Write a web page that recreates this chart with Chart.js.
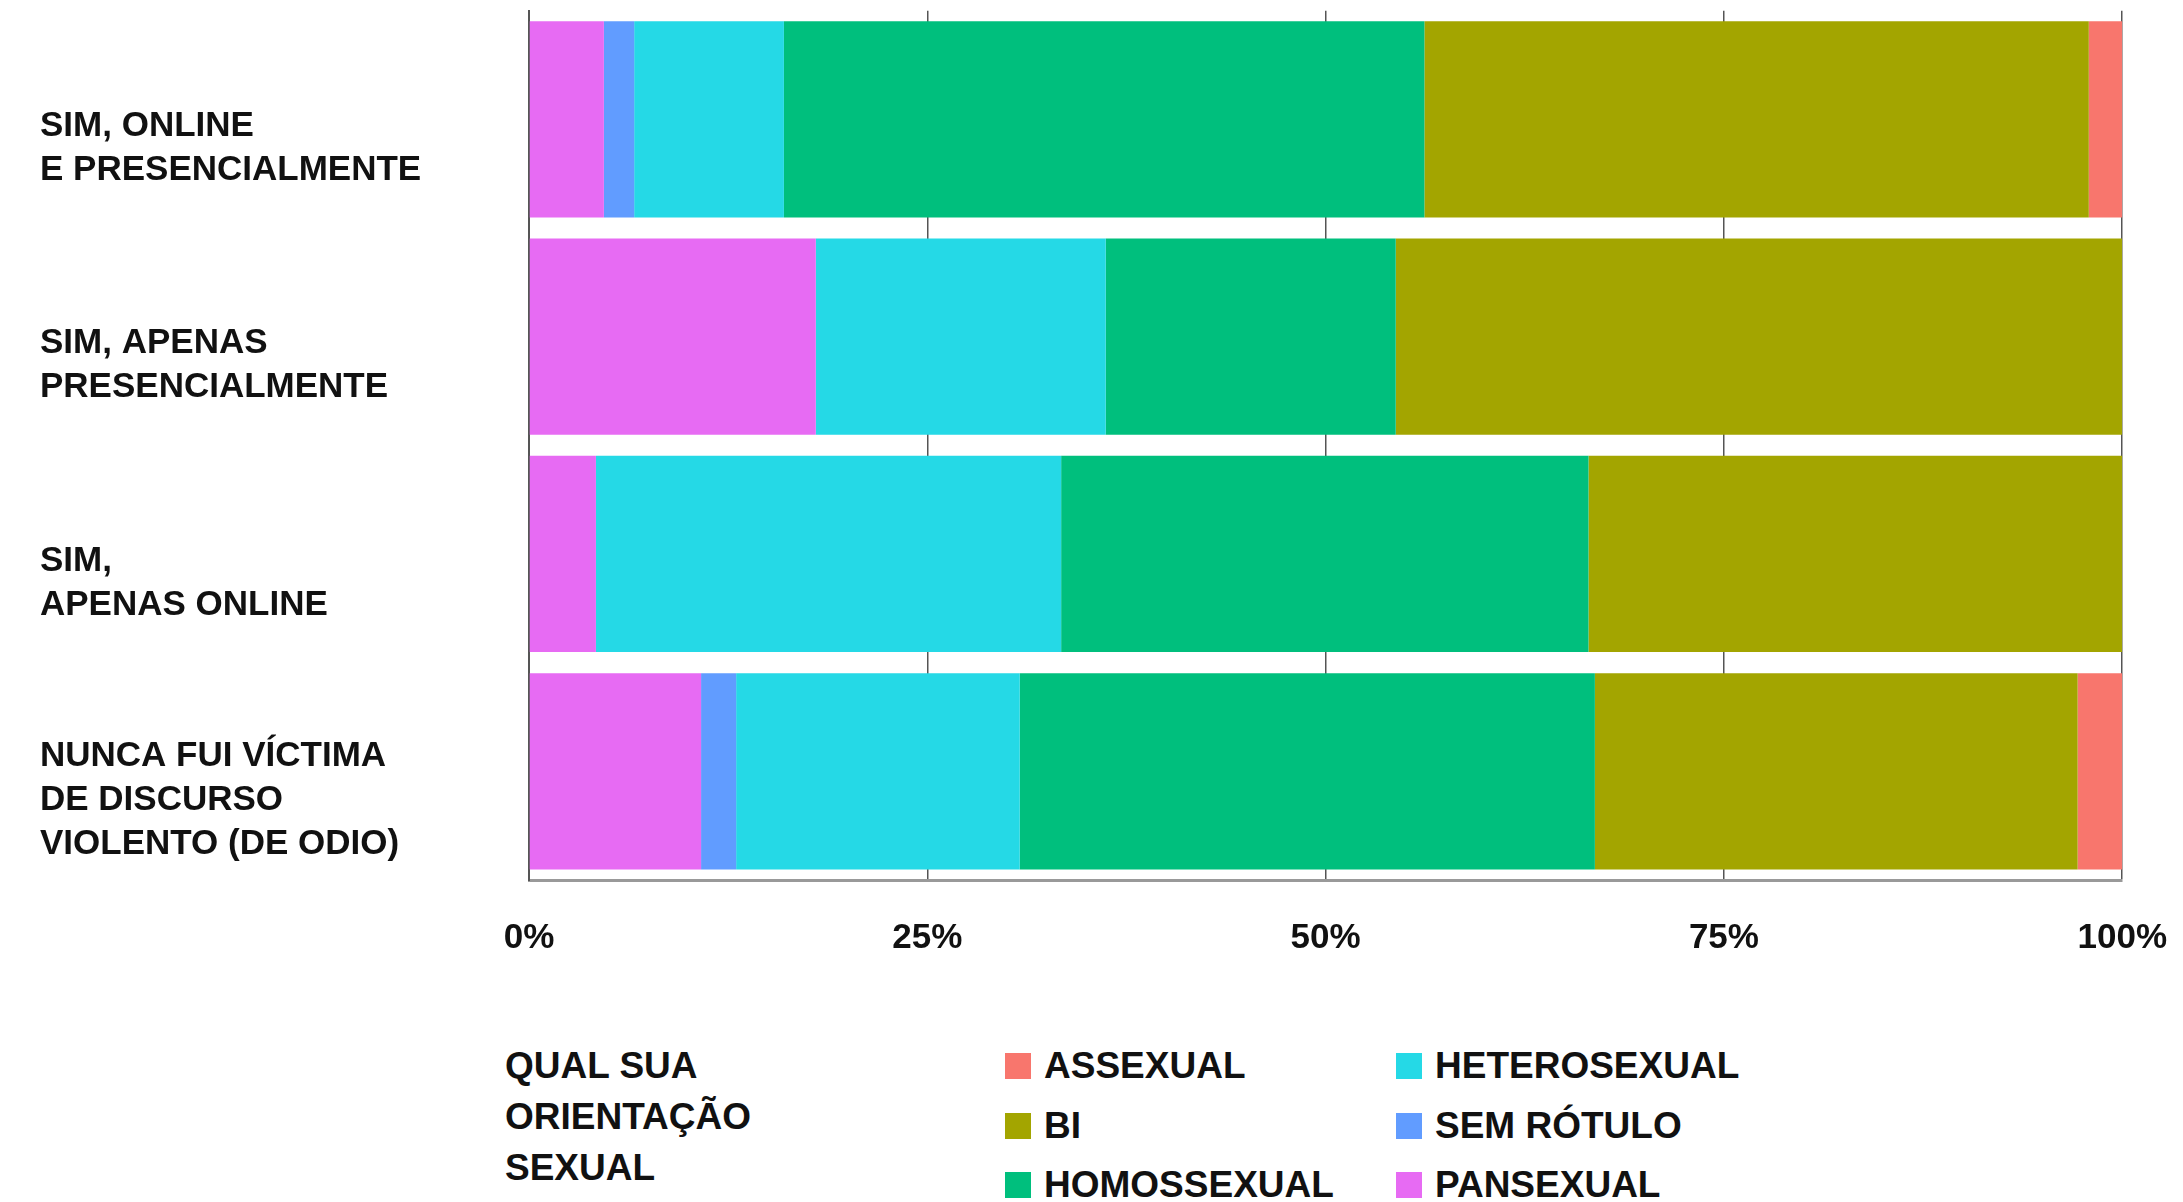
<!DOCTYPE html>
<html>
<head>
<meta charset="utf-8">
<script src="https://cdn.jsdelivr.net/npm/chart.js@4.4.1/dist/chart.umd.min.js"></script>
<style>
  html, body { margin: 0; padding: 0; background: #fff; }
  body { width: 2183px; height: 1202px; position: relative; overflow: hidden; font-family: "Liberation Sans", Arial, sans-serif; }
  /* the y labels reserve room above the plot, so the canvas starts above the page */
  #wrap { position: absolute; left: 0; top: -58px; width: 2204px; height: 1038px; }
  .title { position: absolute; left: 505px; top: 1040px; font-weight: bold; font-size: 37px; line-height: 51px; color: #111; }
  .item { position: absolute; height: 40px; display: flex; align-items: center; font-weight: bold; font-size: 37px; color: #111; white-space: nowrap; }
  .sw { width: 26px; height: 26px; margin-right: 13px; }
</style>
</head>
<body>
<div id="wrap"><canvas id="chart"></canvas></div>
<div class="title">QUAL SUA<br>ORIENTAÇÃO<br>SEXUAL</div>
<div id="legend"></div>
<script>
const categories = [
  ['SIM, ONLINE', 'E PRESENCIALMENTE'],
  ['SIM, APENAS', 'PRESENCIALMENTE'],
  ['SIM,', 'APENAS ONLINE'],
  ['NUNCA FUI VÍCTIMA', 'DE DISCURSO', 'VIOLENTO (DE ODIO)']
];

// shares in %, per category
const pansexual    = [4.7, 18.0, 4.2, 10.8];
const semRotulo    = [1.9, 0, 0, 2.2];
const heterosexual = [9.4, 18.2, 29.2, 17.8];
const homossexual  = [40.2, 18.2, 33.1, 36.1];
const bi           = [41.7, 45.6, 33.5, 30.3];
const assexual     = [2.1, 0, 0, 2.8];

const tickLabels = ['0%', '25%', '50%', '75%', '100%'];

// stacked left to right
const series = [
  { label: 'PANSEXUAL', data: pansexual, color: '#E76BF3' },
  { label: 'SEM RÓTULO', data: semRotulo, color: '#619CFF' },
  { label: 'HETEROSEXUAL', data: heterosexual, color: '#25D9E6' },
  { label: 'HOMOSSEXUAL', data: homossexual, color: '#00BF7D' },
  { label: 'BI', data: bi, color: '#A3A500' },
  { label: 'ASSEXUAL', data: assexual, color: '#F8766D' }
];

const legendOrder = ['ASSEXUAL', 'BI', 'HOMOSSEXUAL', 'HETEROSEXUAL', 'SEM RÓTULO', 'PANSEXUAL'];

const font = '"Liberation Sans", Arial, sans-serif';

new Chart(document.getElementById('chart'), {
  type: 'bar',
  data: {
    labels: categories,
    datasets: series.map(s => ({
      label: s.label,
      data: s.data,
      backgroundColor: s.color,
      borderWidth: 0,
      barPercentage: 0.903,
      categoryPercentage: 1
    }))
  },
  options: {
    indexAxis: 'y',
    responsive: true,
    maintainAspectRatio: false,
    animation: false,
    layout: {
      padding: { left: 40, right: 61, top: 12, bottom: 0 }
    },
    plugins: {
      legend: { display: false },
      tooltip: { enabled: false }
    },
    scales: {
      x: {
        stacked: true,
        min: 0,
        max: 100,
        afterFit: scale => { scale.height = 100; },
        ticks: {
          stepSize: 25,
          padding: 37,
          color: '#111',
          font: { family: font, size: 35, weight: 'bold' },
          callback: v => tickLabels[v / 25]
        },
        grid: {
          color: '#555',
          lineWidth: 1.5,
          drawTicks: false
        },
        border: {
          display: true,
          color: '#999',
          width: 3
        }
      },
      y: {
        stacked: true,
        afterFit: scale => { scale.width = 489; },
        ticks: {
          crossAlign: 'far',
          labelOffset: 29,
          color: '#111',
          font: { family: font, size: 35, weight: 'bold', lineHeight: 1.25 }
        },
        grid: {
          display: false,
          drawTicks: false
        },
        border: {
          display: true,
          color: '#555',
          width: 2
        }
      }
    }
  }
});

// legend, two columns of three, ggplot style
const legend = document.getElementById('legend');
legendOrder.forEach((name, i) => {
  const s = series.find(d => d.label === name);
  const col = Math.floor(i / 3);
  const row = i % 3;
  const el = document.createElement('div');
  el.className = 'item';
  el.style.left = (col === 0 ? 1005 : 1396) + 'px';
  el.style.top = (1046 + row * 59.5) + 'px';
  el.innerHTML = '<span class="sw" style="background:' + s.color + '"></span>' + name;
  legend.appendChild(el);
});
</script>
</body>
</html>
